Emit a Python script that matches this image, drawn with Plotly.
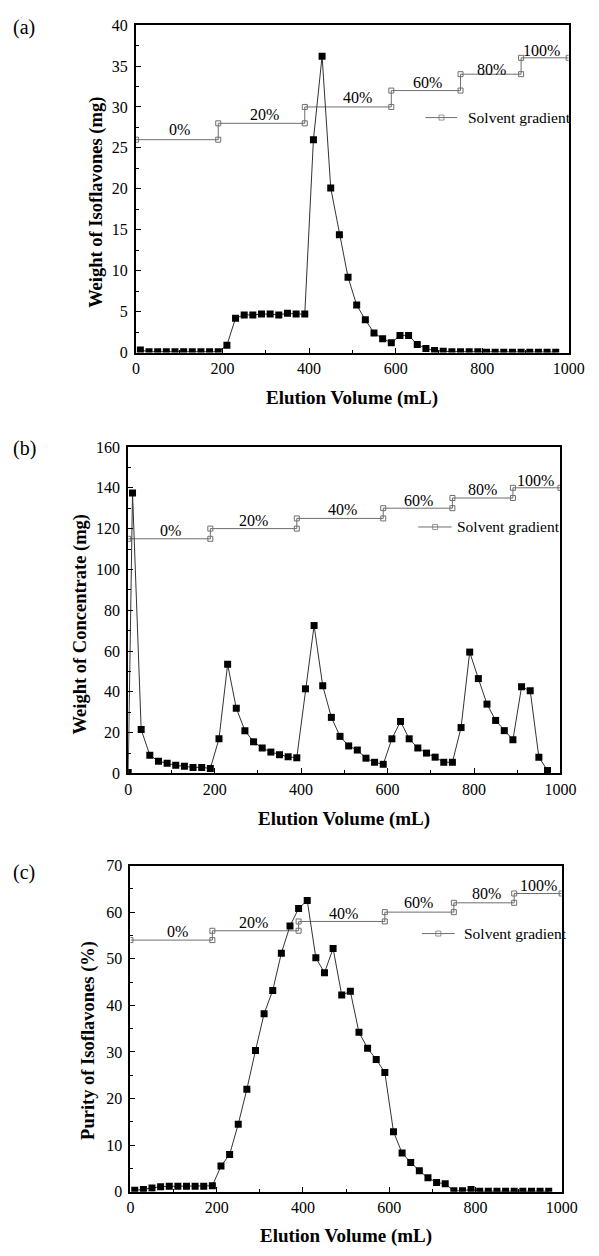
import plotly.graph_objects as go

# Elution volumes (mL) of the collected fractions
volume_a = [10, 30, 50, 70, 90, 110, 130, 150, 170, 190,
            210, 230, 250, 270, 290, 310, 330, 350, 370, 390,
            410, 430, 450, 470, 490, 510, 530, 550, 570, 590,
            610, 630, 650, 670, 690, 710, 730, 750, 770, 790,
            810, 830, 850, 870, 890, 910, 930, 950, 970]
volume_b = [0] + volume_a
volume_c = volume_a

# (a) weight of isoflavones per fraction (mg)
isoflavones_mg = [0.3, 0.1, 0.1, 0.1, 0.1, 0.1, 0.1, 0.1, 0.1, 0.1,
                  0.9, 4.2, 4.6, 4.6, 4.7, 4.7, 4.6, 4.8, 4.7, 4.7,
                  26.0, 36.2, 20.1, 14.4, 9.2, 5.8, 4.0, 2.4, 1.7, 1.2,
                  2.1, 2.1, 1.0, 0.5, 0.25, 0.15, 0.1, 0.1, 0.1, 0.1,
                  0.05, 0.05, 0.05, 0.05, 0.05, 0.05, 0.05, 0.05, 0.05]

# (b) weight of concentrate per fraction (mg)
concentrate_mg = [0.5, 137.5, 21.5, 9.0, 6.0, 5.0, 4.0, 3.5, 3.0, 3.0, 2.5,
                  17.0, 53.5, 32.0, 21.0, 15.5, 12.5, 10.5, 9.2, 8.2, 7.7,
                  41.5, 72.5, 43.0, 27.5, 18.2, 13.5, 11.5, 7.5, 5.5, 4.5,
                  17.0, 25.5, 17.0, 12.5, 10.0, 8.0, 5.5, 5.5, 22.5, 59.5,
                  46.5, 34.0, 26.0, 21.0, 16.5, 42.5, 40.5, 8.0, 1.5]

# (c) purity of isoflavones per fraction (%)
purity_pct = [0.3, 0.5, 0.8, 1.1, 1.2, 1.2, 1.2, 1.2, 1.2, 1.3,
              5.5, 8.0, 14.5, 22.0, 30.3, 38.2, 43.2, 51.2, 57.0, 60.8,
              62.5, 50.2, 47.0, 52.2, 42.2, 43.0, 34.2, 30.8, 28.4, 25.6,
              12.9, 8.3, 6.3, 4.5, 3.0, 2.0, 1.7, 0.2, 0.2, 0.5,
              0.1, 0.1, 0.1, 0.1, 0.1, 0.1, 0.1, 0.1, 0.1]

# Ethanol step gradient: breakpoints (mL) and concentration labels
gradient_x = [0, 190, 190, 390, 390, 590, 590, 750, 750, 890, 890, 1000]
gradient_labels = ["0%", "20%", "40%", "60%", "80%", "100%"]
gradient_a = [26, 26, 28, 28, 30, 30, 32, 32, 34, 34, 36, 36]
gradient_b = [115, 115, 120, 120, 125, 125, 130, 130, 135, 135, 140, 140]
gradient_c = [54, 54, 56, 56, 58, 58, 60, 60, 62, 62, 64, 64]

FONT = "Liberation Serif"
W, H = 599, 1256

panels = [
    dict(key="", x=volume_a, y=isoflavones_mg, grad=gradient_a, yrange=[0, 40], dtick=5,
         xdom=[136.6, 584.2], ydom=[17.3, 349.3],
         label_pos=[(100, 27.2), (297, 29.1), (511, 31.1), (673, 33.0), (821, 34.6), (938, 36.9)],
         legend=dict(line=[669, 706, 742], text_x=763, y=28.7),
         ytitle="Weight of Isoflavones (mg)", ytitle_xy=(95, 196.7),
         xtitle_xy=(360, 395), tag="(a)", tag_y=20),
    dict(key="2", x=volume_b, y=concentrate_mg, grad=gradient_b, yrange=[0, 160], dtick=20,
         xdom=[128.5, 575.7], ydom=[445, 776],
         label_pos=[(97, 119.2), (290, 124.0), (495, 129.3), (672, 134.0), (820, 139.0), (943, 143.7)],
         legend=dict(line=[671, 710, 748], text_x=756, y=120.8),
         ytitle="Weight of Concentrate (mg)", ytitle_xy=(79.5, 625),
         xtitle_xy=(352, 821.7), tag="(b)", tag_y=446.7),
    dict(key="3", x=volume_c, y=purity_pct, grad=gradient_c, yrange=[0, 70], dtick=10,
         xdom=[130.8, 576.9], ydom=[869.3, 1200],
         label_pos=[(108, 55.9), (285, 57.7), (494, 59.8), (669, 62.0), (826, 63.9), (946, 65.8)],
         legend=dict(line=[676, 714, 752], text_x=768, y=55.4),
         ytitle="Purity of Isoflavones (%)", ytitle_xy=(88, 1047),
         xtitle_xy=(354, 1245), tag="(c)", tag_y=876.7),
]

fig = go.Figure()
annotations = []

for p in panels:
    xa, ya = "x" + p["key"], "y" + p["key"]
    # solvent gradient steps
    fig.add_trace(go.Scatter(
        x=gradient_x, y=p["grad"], xaxis=xa, yaxis=ya, mode="lines+markers",
        line=dict(color="#6e6e6e", width=1),
        marker=dict(symbol="square-open", size=5, color="#6e6e6e", line=dict(width=1)),
        showlegend=False, hoverinfo="skip"))
    # measured fractions
    fig.add_trace(go.Scatter(
        x=p["x"], y=p["y"], xaxis=xa, yaxis=ya, mode="lines+markers",
        line=dict(color="#333333", width=1),
        marker=dict(symbol="square", size=7, color="black"),
        showlegend=False))
    # key for the gradient line
    lg = p["legend"]
    fig.add_trace(go.Scatter(
        x=lg["line"], y=[lg["y"]] * 3, xaxis=xa, yaxis=ya, mode="lines+markers",
        line=dict(color="#6e6e6e", width=1),
        marker=dict(symbol="square-open", size=[0, 5, 0], color="#6e6e6e", line=dict(width=1)),
        showlegend=False, hoverinfo="skip"))
    annotations.append(dict(
        x=lg["text_x"], y=lg["y"], xref=xa, yref=ya, text="Solvent gradient",
        showarrow=False, xanchor="left", yanchor="middle",
        font=dict(family=FONT, size=15.5, color="black")))
    # step labels
    for (lx, ly), txt in zip(p["label_pos"], gradient_labels):
        annotations.append(dict(
            x=lx, y=ly, xref=xa, yref=ya, text=txt, showarrow=False,
            xanchor="center", yanchor="middle",
            font=dict(family=FONT, size=16, color="black")))
    # axis titles
    tx, ty = p["ytitle_xy"]
    annotations.append(dict(
        x=tx / W, y=1 - ty / H, xref="paper", yref="paper", text="<b>%s</b>" % p["ytitle"],
        textangle=-90, showarrow=False, xanchor="center", yanchor="middle",
        font=dict(family=FONT, size=18.5, color="black")))
    tx, ty = p["xtitle_xy"]
    annotations.append(dict(
        x=tx / W, y=1 - ty / H, xref="paper", yref="paper", text="<b>Elution Volume (mL)</b>",
        showarrow=False, xanchor="center", yanchor="middle",
        font=dict(family=FONT, size=19, color="black")))
    annotations.append(dict(
        x=21 / W, y=1 - p["tag_y"] / H, xref="paper", yref="paper", text=p["tag"],
        showarrow=False, xanchor="center", yanchor="middle",
        font=dict(family=FONT, size=20, color="black")))

    common = dict(ticks="inside", ticklen=5, tickwidth=1.2, tickcolor="black",
                  showline=True, linewidth=2, linecolor="black", mirror=True,
                  showgrid=False, zeroline=False,
                  tickfont=dict(family=FONT, size=16, color="black"))
    fig.update_layout(**{
        "xaxis" + p["key"]: dict(
            range=[0, 1000], tick0=0, dtick=200, anchor=ya,
            domain=[p["xdom"][0] / W, p["xdom"][1] / W],
            minor=dict(dtick=100, ticks="inside", ticklen=3, tickcolor="black", showgrid=False),
            **common),
        "yaxis" + p["key"]: dict(
            range=p["yrange"], tick0=0, dtick=p["dtick"], anchor=xa,
            domain=[1 - p["ydom"][1] / H, 1 - p["ydom"][0] / H],
            ticklabelstandoff=3,
            minor=dict(dtick=p["dtick"] / 2, ticks="inside", ticklen=3, tickcolor="black", showgrid=False),
            **common),
    })

fig.update_layout(
    width=W, height=H, margin=dict(l=0, r=0, t=0, b=0),
    paper_bgcolor="white", plot_bgcolor="white",
    annotations=annotations, showlegend=False,
    font=dict(family=FONT, color="black"),
)

fig.write_html("out.html")
